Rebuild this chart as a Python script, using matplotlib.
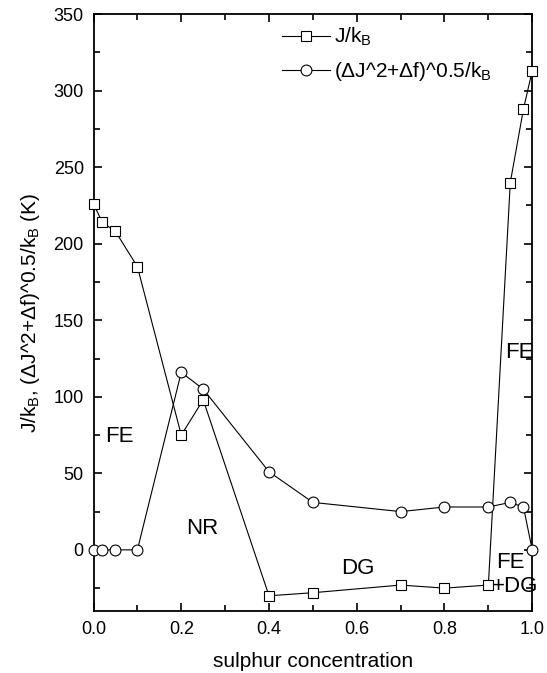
import matplotlib
matplotlib.use("Agg")
import matplotlib.pyplot as plt
from matplotlib.ticker import MultipleLocator, FormatStrFormatter

plt.rcParams['font.family'] = ['Liberation Sans', 'DejaVu Sans']
plt.rcParams['mathtext.fontset'] = 'custom'
plt.rcParams['mathtext.rm'] = 'Liberation Sans'
plt.rcParams['mathtext.it'] = 'Liberation Sans'

x_J = [0.0, 0.02, 0.05, 0.1, 0.2, 0.25, 0.4, 0.5, 0.7, 0.8, 0.9, 0.95, 0.98, 1.0]
J_kB = [226, 214, 208, 185, 75, 98, -30, -28, -23, -25, -23, 240, 288, 313]

x_D = [0.0, 0.02, 0.05, 0.1, 0.2, 0.25, 0.4, 0.5, 0.7, 0.8, 0.9, 0.95, 0.98, 1.0]
dJ_kB = [0, 0, 0, 0, 116, 105, 51, 31, 25, 28, 28, 31, 28, 0]

labels = ["FE", "NR", "DG", "FE", "FE", "+DG"]

fig = plt.figure(figsize=(5.47, 6.73), dpi=100)
ax = fig.add_axes([0.171, 0.092, 0.802, 0.887])

ax.plot(x_J, J_kB, color='black', lw=0.8, marker='s', ms=7, mfc='white',
        mec='black', mew=0.8, label=r'J/k$_\mathregular{B}$', clip_on=False, zorder=3)
ax.plot(x_D, dJ_kB, color='black', lw=0.8, marker='o', ms=7.8, mfc='white',
        mec='black', mew=0.8, label=r'($\Delta$J^2+$\Delta$f)^0.5/k$_\mathregular{B}$',
        clip_on=False, zorder=3)

ax.set_xlim(0, 1.0)
ax.set_ylim(-40, 350)
ax.xaxis.set_major_locator(MultipleLocator(0.2))
ax.xaxis.set_minor_locator(MultipleLocator(0.1))
ax.yaxis.set_major_locator(MultipleLocator(50))
ax.yaxis.set_minor_locator(MultipleLocator(25))
ax.tick_params(which='both', direction='in', top=True, right=True, width=1.2)
ax.tick_params(which='major', length=6, labelsize=13, pad=7)
ax.tick_params(which='minor', length=4)
ax.xaxis.set_major_formatter(FormatStrFormatter('%.1f'))
for s in ax.spines.values():
    s.set_linewidth(1.3)

ax.set_xlabel('sulphur concentration', fontsize=15, labelpad=10)
ax.set_ylabel(r'J/k$_\mathregular{B}$, ($\Delta$J^2+$\Delta$f)^0.5/k$_\mathregular{B}$ (K)',
              fontsize=15, labelpad=8)

tk = dict(fontsize=16, ha='center', va='center')
ax.text(0.06, 74, labels[0], **tk)
ax.text(0.247, 14, labels[1], **tk)
ax.text(0.603, -12, labels[2], **tk)
ax.text(0.971, 129, labels[3], **tk)
ax.text(0.951, -8.5, labels[4], **tk)
ax.text(0.962, -24, labels[5], **tk)

leg = ax.legend(loc='upper left', bbox_to_anchor=(0.429, 0.98), frameon=False,
                fontsize=15, handlelength=2.3, handletextpad=0.2, labelspacing=0.55,
                borderaxespad=0.0, borderpad=0.0)

fig.savefig('out.png', dpi=100)
